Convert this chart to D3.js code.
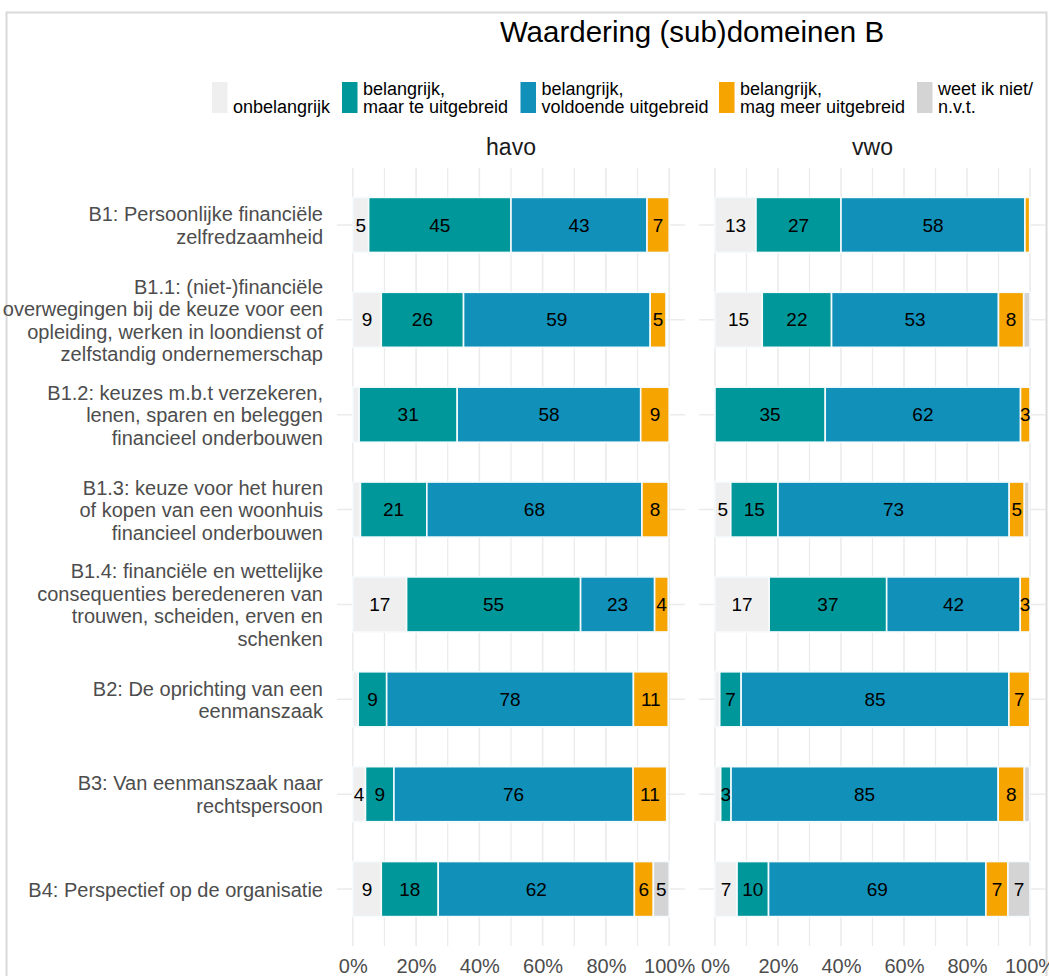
<!DOCTYPE html>
<html><head><meta charset="utf-8">
<script src="https://cdn.jsdelivr.net/npm/d3@7"></script>
<style>
body{margin:0;background:#fff;}
svg{display:block;font-family:"Liberation Sans",Arial,sans-serif;}
</style>
</head><body>
<svg id="chart" width="1049" height="976"></svg>
<script>
// ---------- DATA ----------
const categories = ["B1","B1.1","B1.2","B1.3","B1.4","B2","B3","B4"];
const categoryLines = [
  ["B1: Persoonlijke financiële","zelfredzaamheid"],
  ["B1.1: (niet-)financiële","overwegingen bij de keuze voor een","opleiding, werken in loondienst of","zelfstandig ondernemerschap"],
  ["B1.2: keuzes m.b.t verzekeren,","lenen, sparen en beleggen","financieel onderbouwen"],
  ["B1.3: keuze voor het huren","of kopen van een woonhuis","financieel onderbouwen"],
  ["B1.4: financiële en wettelijke","consequenties beredeneren van","trouwen, scheiden, erven en","schenken"],
  ["B2: De oprichting van een","eenmanszaak"],
  ["B3: Van eenmanszaak naar","rechtspersoon"],
  ["B4: Perspectief op de organisatie"]
];
const levels = ["havo","vwo"];
const seriesKeys = ["onbelangrijk","teUitgebreid","voldoende","magMeer","weetNiet"];
const legendLabels = [["","onbelangrijk"],["belangrijk,","maar te uitgebreid"],["belangrijk,","voldoende uitgebreid"],["belangrijk,","mag meer uitgebreid"],["weet ik niet/","n.v.t."]];
const seriesColors = ["#efefef","#00979a","#1190b9","#f5a400","#d4d4d4"];

const havoOnbelangrijk = [5, 9, 2, 2.4, 17, 1.7, 4, 9];
const havoTeUitgebreid = [45, 26, 31, 21, 55, 9, 9, 18];
const havoVoldoende    = [43, 59, 58, 68, 23.4, 78, 75.6, 62];
const havoMagMeer      = [7, 5, 9, 8.3, 4.3, 11, 10.6, 6];
const havoWeetNiet     = [0, 0, 0, 0, 0, 0, 0, 5];

const vwoOnbelangrijk = [13, 15, 0, 5, 17.2, 1.5, 1.8, 7];
const vwoTeUitgebreid = [27, 22, 35, 15, 37.3, 6.8, 3.3, 10];
const vwoVoldoende    = [58.4, 53, 62, 73.4, 42.4, 85, 84.8, 69];
const vwoMagMeer      = [1.5, 8, 3, 4.8, 3.1, 6.6, 8.3, 7];
const vwoWeetNiet     = [0, 2, 0, 1.5, 0, 0, 1.7, 7];

const xTicks = [0, 20, 40, 60, 80, 100];
const xTickLabels = ["0%","20%","40%","60%","80%","100%"];
const gridValues = [0,10,20,30,40,50,60,70,80,90,100];

// ---------- BUILD TABLES ----------
const levelSeries = {
  havo: [havoOnbelangrijk, havoTeUitgebreid, havoVoldoende, havoMagMeer, havoWeetNiet],
  vwo:  [vwoOnbelangrijk, vwoTeUitgebreid, vwoVoldoende, vwoMagMeer, vwoWeetNiet]
};
function table(level){
  return categories.map((c,i)=>{
    const r = {cat:c};
    seriesKeys.forEach((k,j)=> r[k] = levelSeries[level][j][i]);
    return r;
  });
}

// ---------- LAYOUT ----------
const svg = d3.select("#chart");
const font = '"Liberation Sans",Arial,sans-serif';
svg.append("rect").attr("width",1049).attr("height",976).attr("fill","#fff");
svg.append("rect").attr("x",6.5).attr("y",12.5).attr("width",1040).attr("height",1000)
  .attr("fill","none").attr("stroke","#d9d9d9").attr("stroke-width",2);

const panelTop = 168, panelBottom = 946;
const panels = [{level:"havo", x0:337, x1:685},{level:"vwo", x0:699.25, x1:1045.75}];

const y = d3.scalePoint().domain(categories).range([panelTop, panelBottom]).padding(0.6);
const barH = y.step()*0.58;
const color = d3.scaleOrdinal().domain(seriesKeys).range(seriesColors);

// Title
svg.append("text").attr("x",692).attr("y",42).attr("text-anchor","middle")
  .attr("font-size",29.5).attr("fill","#000").attr("font-family",font)
  .text("Waardering (sub)domeinen B");

// Legend
const legendKeyX = [212, 342, 520.5, 719, 917];
const legend = svg.append("g").attr("font-family",font).attr("font-size",18).attr("fill","#000");
legendLabels.forEach((lab,i)=>{
  const lx = legendKeyX[i];
  legend.append("rect").attr("x",lx).attr("y",82).attr("width",15.5).attr("height",31)
    .attr("fill",seriesColors[i]);
  if(lab[0]) legend.append("text").attr("x",lx+21).attr("y",94.5).text(lab[0]);
  legend.append("text").attr("x",lx+21).attr("y",113).text(lab[1]);
});

panels.forEach((p,pi)=>{
  const x = d3.scaleLinear().domain([-5,105]).range([p.x0,p.x1]);
  const g = svg.append("g");
  // grid
  g.selectAll("line.v").data(gridValues).join("line")
    .attr("x1",d=>x(d)).attr("x2",d=>x(d)).attr("y1",panelTop).attr("y2",panelBottom)
    .attr("stroke","#ebebeb").attr("stroke-width",d=>d%20===0?1.6:1.2);
  g.selectAll("line.h").data(categories).join("line")
    .attr("x1",p.x0).attr("x2",p.x1).attr("y1",d=>y(d)).attr("y2",d=>y(d))
    .attr("stroke","#ebebeb").attr("stroke-width",1.6);
  // strip
  svg.append("text").attr("x",(p.x0+p.x1)/2).attr("y",155).attr("text-anchor","middle")
    .attr("font-size",23).attr("fill","#1a1a1a").attr("font-family",font).text(p.level);
  // bars
  const stacked = d3.stack().keys(seriesKeys)(table(p.level));
  const layers = g.selectAll("g.layer").data(stacked).join("g").attr("fill",d=>color(d.key));
  layers.selectAll("rect").data(d=>d.map(s=>({s, key:d.key}))).join("rect")
    .attr("x",d=>x(d.s[0])).attr("width",d=>Math.max(0,x(d.s[1])-x(d.s[0])))
    .attr("y",d=>y(d.s.data.cat)-barH/2).attr("height",barH)
    .attr("stroke","#f6fbfd").attr("stroke-width",d=>(d.s[1]-d.s[0])>0?1.6:0);
  layers.selectAll("text").data(d=>d.filter(s=>Math.round(s[1]-s[0])>=3)).join("text")
    .attr("x",d=>x((d[0]+d[1])/2)).attr("y",d=>y(d.data.cat)).attr("dy","0.35em")
    .attr("text-anchor","middle").attr("font-size",19).attr("fill","#000").attr("font-family",font)
    .text(d=>Math.round(d[1]-d[0]));
  // x axis
  const ax = svg.append("g").attr("transform",`translate(0,956)`)
    .call(d3.axisBottom(x).tickValues(xTicks).tickSize(0).tickPadding(3).tickFormat((d,i)=>xTickLabels[i]));
  ax.select(".domain").remove();
  ax.selectAll("text").attr("font-size",20).attr("fill","#4d4d4d").attr("font-family",font);
  // y axis (first panel only)
  if(pi===0){
    const ay = svg.append("g").attr("transform",`translate(${p.x0},0)`)
      .call(d3.axisLeft(y).tickSize(0).tickPadding(14).tickFormat(""));
    ay.select(".domain").remove();
    ay.selectAll(".tick").each(function(d,i){
      const lines = categoryLines[i];
      const t = d3.select(this).select("text").text(null)
        .attr("font-size",20).attr("fill","#4d4d4d").attr("font-family",font).attr("dy",null);
      lines.forEach((l,j)=>{
        t.append("tspan").attr("x",-14).attr("y",(j-(lines.length-1)/2)*22.5).attr("dy","0.35em").text(l);
      });
    });
  }
});
</script>
</body></html>
